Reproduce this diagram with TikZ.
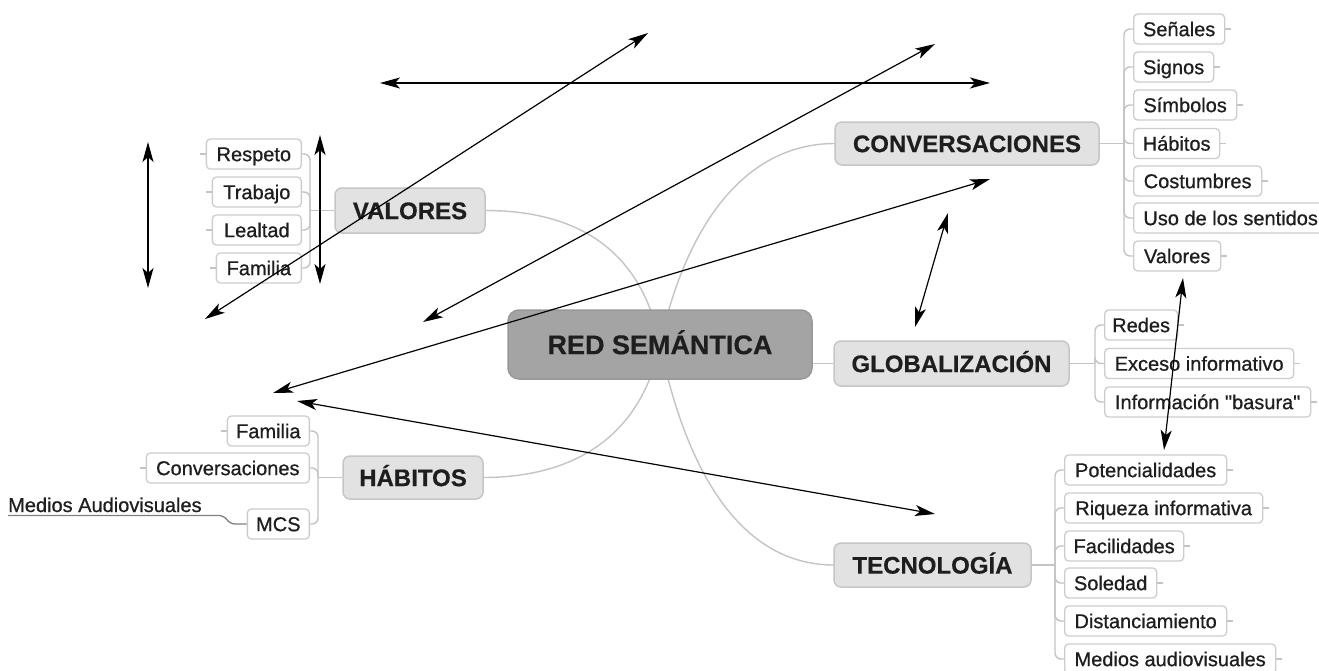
\documentclass[tikz,border=0pt]{standalone}
\usepackage{fontspec}
\setmainfont{Liberation Sans}
\newfontfamily\leaffont{Liberation Sans}[FakeBold=0.7]
\newfontfamily\mainfont{Liberation Sans Bold}[FakeBold=0.5]
\usetikzlibrary{arrows.meta}
\definecolor{txt}{HTML}{1E1E1E}
\definecolor{lbord}{HTML}{CDCDCD}
\definecolor{mfill}{HTML}{E2E2E2}
\definecolor{mbord}{HTML}{C6C6C6}
\definecolor{cfill}{HTML}{A4A4A4}
\definecolor{cbord}{HTML}{989898}
\definecolor{lgray}{HTML}{C4C4C4}
\begin{document}
\begin{tikzpicture}[x=1pt,y=-1pt,
  leaf/.style={draw=lbord, fill=white, rounded corners=4pt, line width=1.3pt, minimum height=30pt, inner sep=0pt, text height=14.3pt, text depth=0pt, font=\fontsize{20}{24}\leaffont, text=txt},
  mainbox/.style={draw=mbord, fill=mfill, rounded corners=7pt, line width=1.5pt, inner sep=0pt, text height=17.2pt, text depth=0pt, font=\fontsize{24}{28}\mainfont, text=txt},
  centerbox/.style={draw=cbord, fill=cfill, rounded corners=11pt, line width=1.5pt, inner sep=0pt, text height=19.3pt, text depth=0pt, font=\fontsize{27}{32}\mainfont, text=txt},
  conn/.style={draw=lgray, line width=1.4pt},
  stub/.style={draw=lgray, line width=1.1pt},
  arr/.style={{Stealth[length=20pt,width=11pt,inset=5pt]}-{Stealth[length=20pt,width=11pt,inset=5pt]}, line width=1.2pt, draw=black}
]
\useasboundingbox (0,0) rectangle (1319,670);
\fill[white] (0,0) rectangle (1319,670);

% bracket coordinates
\coordinate (cb) at (1124,143.5);
\coordinate (gb) at (1095,363.5);
\coordinate (tb) at (1055,565);
\coordinate (vb) at (310,210.5);
\coordinate (hb) at (318,477.5);

% central curves (drawn first, under the nodes)
\coordinate (rc) at (660,344.5);
\draw[conn] (rc) .. controls (640,240) and (565,210.5) .. (485,210.5);
\draw[conn] (rc) .. controls (686,225) and (745,143.5) .. (835,143.5);
\draw[conn] (rc) .. controls (640,440) and (570,477.5) .. (483,477.5);
\draw[conn] (rc) .. controls (686,470) and (740,565) .. (834,565);

% central node
\node[centerbox, minimum width=304pt, minimum height=69pt] (red) at (660,344.5) {RED SEMÁNTICA};

% main nodes
\node[mainbox, minimum width=264pt, minimum height=43pt] (conv) at (967,143.5) {CONVERSACIONES};
\node[mainbox, minimum width=235pt, minimum height=45pt] (glob) at (951.5,363.5) {GLOBALIZACIÓN};
\node[mainbox, minimum width=197pt, minimum height=44pt] (tec) at (932.5,565) {TECNOLOGÍA};
\node[mainbox, minimum width=150pt, minimum height=45pt] (val) at (410,210.5) {VALORES};
\node[mainbox, minimum width=140pt, minimum height=43pt] (hab) at (413,477.5) {HÁBITOS};

\draw[conn] (red.east |- glob.west) -- (glob.west);

% conversaciones children
\node[leaf, anchor=west, minimum width=91pt]  (c1) at (1133,29)  {Señales};
\node[leaf, anchor=west, minimum width=80pt]  (c2) at (1133,67)  {Signos};
\node[leaf, anchor=west, minimum width=103pt] (c3) at (1133,105) {Símbolos};
\node[leaf, anchor=west, minimum width=86pt]  (c4) at (1133,143.5) {Hábitos};
\node[leaf, anchor=west, minimum width=128pt] (c5) at (1133,181) {Costumbres};
\node[leaf, anchor=west, minimum width=194pt] (c6) at (1133,218) {Uso de los sentidos};
\node[leaf, anchor=west, minimum width=87pt]  (c7) at (1133,256) {Valores};
\draw[conn] (conv.east) -- (cb);
\foreach \n in {c1,c2,c3,c4,c5,c6,c7} {
  \draw[conn, rounded corners=6pt] (cb) |- (\n.west);
  \draw[stub] (\n.east) -- ++(6,0);
}

% globalizacion children
\node[leaf, anchor=west, minimum width=73pt]  (g1) at (1104,325) {Redes};
\node[leaf, anchor=west, minimum width=189pt] (g2) at (1104,363.5) {Exceso informativo};
\node[leaf, anchor=west, minimum width=206pt] (g3) at (1104,402) {Información "basura"};
\draw[conn] (glob.east) -- (gb);
\foreach \n in {g1,g2,g3} {
  \draw[conn, rounded corners=6pt] (gb) |- (\n.west);
  \draw[stub] (\n.east) -- ++(6,0);
}

% tecnologia children
\node[leaf, anchor=west, minimum width=162pt] (t1) at (1064,470) {Potencialidades};
\node[leaf, anchor=west, minimum width=198pt] (t2) at (1064,508) {Riqueza informativa};
\node[leaf, anchor=west, minimum width=119pt] (t3) at (1064,546) {Facilidades};
\node[leaf, anchor=west, minimum width=92pt]  (t4) at (1064,583) {Soledad};
\node[leaf, anchor=west, minimum width=162pt] (t5) at (1064,621) {Distanciamiento};
\node[leaf, anchor=west, minimum width=211pt] (t6) at (1064,659) {Medios audiovisuales};
\draw[conn] (tec.east) -- (tb);
\foreach \n in {t1,t2,t3,t4,t5,t6} {
  \draw[conn, rounded corners=6pt] (tb) |- (\n.west);
  \draw[stub] (\n.east) -- ++(6,0);
}

% valores children
\node[leaf, anchor=east, minimum width=95pt] (v1) at (302,154) {Respeto};
\node[leaf, anchor=east, minimum width=89pt] (v2) at (302,192) {Trabajo};
\node[leaf, anchor=east, minimum width=89pt] (v3) at (302,230) {Lealtad};
\node[leaf, anchor=east, minimum width=85pt] (v4) at (302,268) {Familia};
\draw[conn] (val.west) -- (vb);
\foreach \n in {v1,v2,v3,v4} {
  \draw[conn, rounded corners=6pt] (vb) |- (\n.east);
  \draw[stub] (\n.west) -- ++(-6,0);
}

% habitos children
\node[leaf, anchor=east, minimum width=82pt]  (h1) at (310,431) {Familia};
\node[leaf, anchor=east, minimum width=163pt] (h2) at (310,468) {Conversaciones};
\node[leaf, anchor=east, minimum width=62pt]  (h3) at (310,524) {MCS};
\draw[conn] (hab.west) -- (hb);
\foreach \n in {h1,h2,h3} {
  \draw[conn, rounded corners=6pt] (hb) |- (\n.east);
}
\draw[stub] (h1.west) -- ++(-6,0);
\draw[stub] (h2.west) -- ++(-6,0);
\node[anchor=base west, inner sep=0pt, font=\fontsize{20}{24}\leaffont, text=txt] (mav) at (8,512) {Medios Audiovisuales};
\coordinate (mavend) at (8,515.5);
\draw[draw=gray, line width=1.3pt, rounded corners=5pt] (h3.west) -- (230,524) -- (224,515.5) -- (mavend);

% arrows
\coordinate (a1s) at (380,83);   \coordinate (a1e) at (990,83);
\coordinate (a2s) at (205,319);  \coordinate (a2e) at (648,33);
\coordinate (a3s) at (423,322);  \coordinate (a3e) at (935,44);
\coordinate (a4s) at (273,393);  \coordinate (a4e) at (990,179);
\coordinate (a5s) at (297,401);  \coordinate (a5e) at (935,514);
\coordinate (a6s) at (915,327);  \coordinate (a6e) at (948,213);
\coordinate (a7s) at (1164,450); \coordinate (a7e) at (1183,278);
\coordinate (a8s) at (148,142);  \coordinate (a8e) at (148,288);
\coordinate (a9s) at (320,135);  \coordinate (a9e) at (320,284);
\foreach \i in {1,...,9} { \draw[arr] (a\i s) -- (a\i e); }
\end{tikzpicture}
\end{document}
